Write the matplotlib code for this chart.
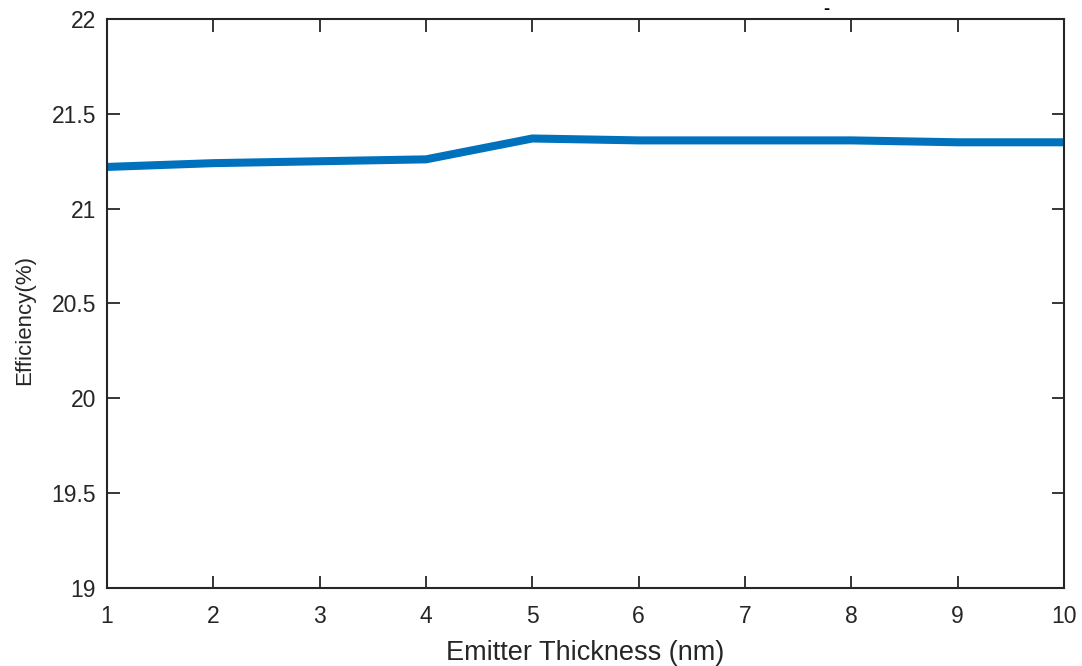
import matplotlib.pyplot as plt

plt.rcParams["font.family"] = ["Liberation Sans", "DejaVu Sans"]

thickness = [1, 2, 3, 4, 5, 6, 7, 8, 9, 10]
efficiency = [21.22, 21.24, 21.25, 21.26, 21.37, 21.36, 21.36, 21.36, 21.35, 21.35]

x_ticks = [1, 2, 3, 4, 5, 6, 7, 8, 9, 10]
y_ticks = [19, 19.5, 20, 20.5, 21, 21.5, 22]
y_labels = ["19", "19.5", "20", "20.5", "21", "21.5", "22"]

fig = plt.figure(figsize=(10.82, 6.66), dpi=100)
ax = fig.add_axes([107 / 1082, 1 - 588 / 666, (1064 - 107) / 1082, (588 - 19) / 666])

ax.plot(thickness, efficiency, color="#0072BD", linewidth=5.8, solid_capstyle="butt",
        solid_joinstyle="miter", clip_on=False)

ax.set_xlim(1, 10)
ax.set_ylim(19, 22)
ax.set_xticks(x_ticks)
ax.set_yticks(y_ticks)
ax.set_yticklabels(y_labels)

for side in ax.spines.values():
    side.set_linewidth(1.5)
    side.set_color("#262626")

ax.tick_params(direction="in", length=9, width=1.3, color="#262626",
               labelsize=16.5, labelcolor="#262626", top=True, right=True)
ax.tick_params(axis="x", pad=12)
ax.tick_params(axis="y", pad=8)

ax.set_xlabel("Emitter Thickness (nm)", fontsize=19.5, color="#262626")
ax.set_ylabel("Efficiency(%)", fontsize=16, color="#262626")
ax.xaxis.set_label_coords(585 / 1082, 1 - 653 / 666, transform=fig.transFigure)
ax.yaxis.set_label_coords(25 / 1082, 1 - 320 / 666, transform=fig.transFigure)
ax.xaxis.label.set_va("center")
ax.yaxis.label.set_va("center")

# leftover of a clipped title above the frame
fig.text(826 / 1082, 1 - 10 / 666, "-", fontsize=13, fontweight="bold",
         ha="center", va="center", color="black")

fig.savefig("out.png", dpi=100)
